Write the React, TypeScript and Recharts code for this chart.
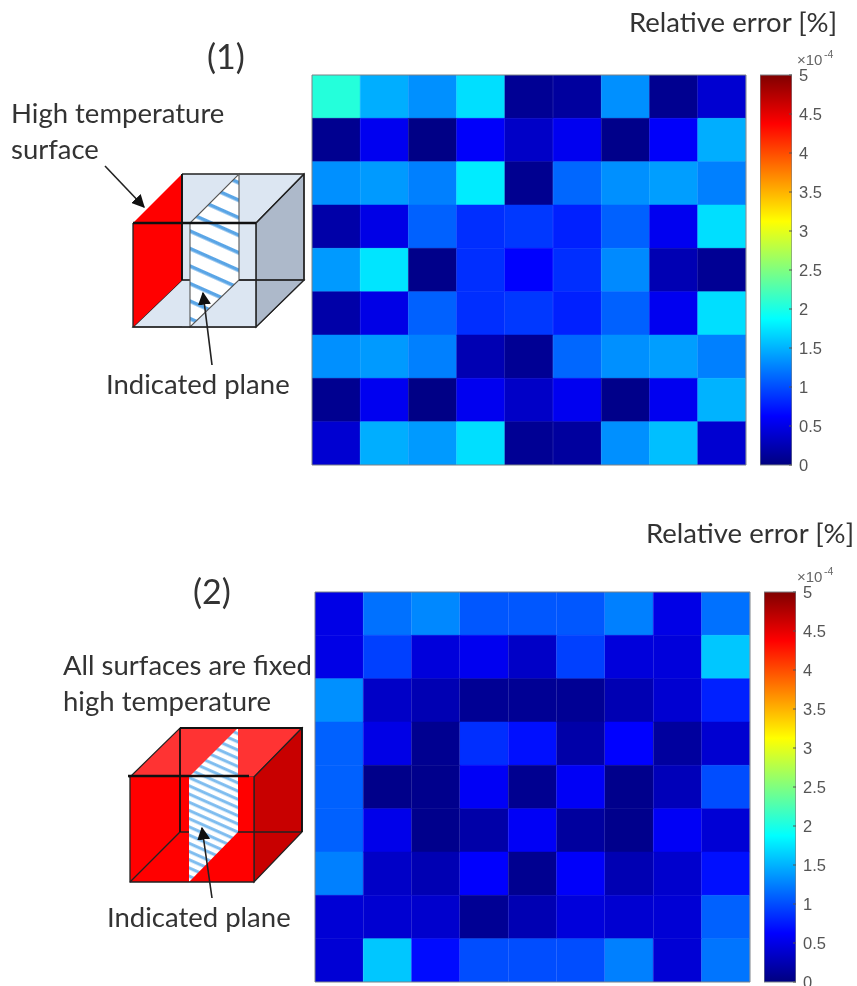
import React from 'react';
import { BarChart, Bar, XAxis, YAxis, Cell } from 'recharts';

const columnLabels = ['1', '2', '3', '4', '5', '6', '7', '8', '9'];
const columnTicks = ['2', '4', '6', '8'];
const rowKeys = ['r1', 'r2', 'r3', 'r4', 'r5', 'r6', 'r7', 'r8', 'r9'];
const rowTicks = [0.5, 1.5, 2.5, 3.5, 4.5, 5.5, 6.5, 7.5, 8.5];
const colorbarTicks = [0, 0.5, 1, 1.5, 2, 2.5, 3, 3.5, 4, 4.5, 5];

// Relative error, units of 1e-4 %, rows listed top to bottom
const errorsUpper = [
  [2.05, 1.48, 1.33, 1.72, 0.1, 0.15, 1.33, 0.08, 0.4],
  [0.08, 0.55, 0.03, 0.6, 0.35, 0.55, 0.05, 0.6, 1.48],
  [1.33, 1.38, 1.25, 1.78, 0.08, 1.13, 1.33, 1.4, 1.25],
  [0.2, 0.5, 1.1, 0.85, 0.9, 0.78, 1.1, 0.55, 1.72],
  [1.38, 1.75, 0.05, 0.85, 0.62, 0.85, 1.3, 0.25, 0.1],
  [0.2, 0.5, 1.1, 0.85, 0.9, 0.78, 1.1, 0.55, 1.72],
  [1.33, 1.38, 1.25, 0.25, 0.1, 1.13, 1.33, 1.4, 1.25],
  [0.08, 0.55, 0.03, 0.55, 0.35, 0.55, 0.05, 0.55, 1.5],
  [0.4, 1.48, 1.38, 1.72, 0.1, 0.15, 1.33, 1.56, 0.4],
];
const errorsLower = [
  [0.5, 1.18, 1.29, 1.05, 1.05, 1.05, 1.25, 0.5, 1.18],
  [0.5, 0.94, 0.45, 0.55, 0.35, 0.94, 0.45, 0.45, 1.6],
  [1.33, 0.35, 0.25, 0.1, 0.1, 0.1, 0.25, 0.4, 0.78],
  [1.1, 0.5, 0.08, 0.85, 0.7, 0.2, 0.63, 0.15, 0.4],
  [1.1, 0.05, 0.06, 0.58, 0.08, 0.58, 0.06, 0.28, 1.0],
  [1.1, 0.52, 0.06, 0.2, 0.58, 0.15, 0.06, 0.58, 0.42],
  [1.25, 0.35, 0.25, 0.62, 0.08, 0.6, 0.25, 0.38, 0.7],
  [0.42, 0.4, 0.38, 0.1, 0.25, 0.45, 0.4, 0.42, 1.1],
  [0.42, 1.6, 0.68, 1.0, 1.0, 1.0, 1.25, 0.42, 1.2],
];

const jetStops: [number, number, number, number][] = [
  [0, 0, 0, 0.5],
  [0.125, 0, 0, 1],
  [0.375, 0, 1, 1],
  [0.625, 1, 1, 0],
  [0.875, 1, 0, 0],
  [1, 0.5, 0, 0],
];
const colorbarTable = [{ name: 'scale', span: 5 }];

function jet(value: number): string {
  const f = Math.max(0, Math.min(1, value / 5));
  let i = 0;
  while (i < jetStops.length - 2 && f > jetStops[i + 1][0]) i++;
  const a = jetStops[i];
  const b = jetStops[i + 1];
  const t = (f - a[0]) / (b[0] - a[0]);
  const c = [1, 2, 3].map((k) => Math.round((a[k] + (b[k] - a[k]) * t) * 255));
  return `rgb(${c[0]},${c[1]},${c[2]})`;
}

const stopCss = (s: number[]) =>
  `rgb(${Math.round(s[1] * 255)},${Math.round(s[2] * 255)},${Math.round(s[3] * 255)})`;

const FRAME = '#7d8288';
const TICK = '#555';
const PAD = 4;

function Heatmap({ values, left, top, width, height }: { values: number[][]; left: number; top: number; width: number; height: number }) {
  const table = columnLabels.map((col) => {
    const row: Record<string, string | number> = { col };
    rowKeys.forEach((k) => {
      row[k] = 1;
    });
    return row;
  });
  const common = { stroke: FRAME, tickLine: { stroke: TICK }, tick: false, tickSize: -3, interval: 0 } as const;
  const m = PAD - 1;
  return (
    <>
      <div style={{ position: 'absolute', left, top }}>
        <BarChart width={width} height={height} data={table} barCategoryGap={0} margin={{ top: 0, right: 0, bottom: 0, left: 0 }}>
          <XAxis dataKey="col" hide />
          <YAxis type="number" domain={[0, 9]} reversed hide />
          {rowKeys.map((k, r) => (
            <Bar key={k} dataKey={k} stackId="cells" isAnimationActive={false}>
              {columnLabels.map((c, i) => (
                <Cell key={c} fill={jet(values[r][i])} stroke={jet(values[r][i])} strokeWidth={0.5} />
              ))}
            </Bar>
          ))}
        </BarChart>
      </div>
      <div style={{ position: 'absolute', left: left - PAD, top: top - PAD }}>
        <BarChart width={width + 2 * PAD} height={height + 2 * PAD} data={table} margin={{ top: m, right: m, bottom: m, left: m }}>
          <XAxis dataKey="col" height={1} ticks={columnTicks} {...common} />
          <XAxis xAxisId="top" dataKey="col" orientation="top" height={1} ticks={columnTicks} {...common} />
          <YAxis type="number" domain={[0, 9]} reversed width={1} ticks={rowTicks} {...common} />
          <YAxis yAxisId="right" type="number" domain={[0, 9]} reversed orientation="right" width={1} ticks={rowTicks} {...common} />
          <Bar dataKey="r1" fill="none" isAnimationActive={false} />
          <Bar dataKey="r1" xAxisId="top" yAxisId="right" fill="none" isAnimationActive={false} />
        </BarChart>
      </div>
    </>
  );
}

function Colorbar({ id, left, top, barWidth, height }: { id: string; left: number; top: number; barWidth: number; height: number }) {
  const pad = 12;
  return (
    <>
      <div style={{ position: 'absolute', left, top: top - pad }}>
        <BarChart width={barWidth} height={height + 2 * pad} data={colorbarTable} barCategoryGap={0} margin={{ top: pad, right: 0, bottom: pad, left: 0 }}>
          <defs>
            <linearGradient id={id} x1="0" y1="1" x2="0" y2="0">
              {jetStops.map((s) => (
                <stop key={s[0]} offset={s[0]} stopColor={stopCss(s)} />
              ))}
            </linearGradient>
          </defs>
          <XAxis dataKey="name" hide />
          <YAxis type="number" domain={[0, 5]} hide />
          <Bar dataKey="span" fill={`url(#${id})`} stroke={FRAME} strokeWidth={1.2} isAnimationActive={false} />
        </BarChart>
      </div>
      <div style={{ position: 'absolute', left, top: top - pad }}>
        <BarChart width={barWidth + 40} height={height + 2 * pad} data={colorbarTable} margin={{ top: pad, right: 0, bottom: pad, left: 0 }}>
          <XAxis dataKey="name" hide />
          <YAxis
            orientation="right"
            type="number"
            domain={[0, 5]}
            ticks={colorbarTicks}
            interval={0}
            width={40}
            tickSize={-3}
            tickMargin={10}
            axisLine={false}
            tickLine={{ stroke: TICK }}
            tick={{ fontFamily: 'Liberation Sans', fontSize: 16.5, fill: '#555', textAnchor: 'start' }}
          />
          <Bar dataKey="span" fill="none" isAnimationActive={false} />
        </BarChart>
      </div>
    </>
  );
}

const LABEL = { fontFamily: 'Lato', fill: '#333' } as const;

function Arrow({ from, to }: { from: [number, number]; to: [number, number] }) {
  return <line x1={from[0]} y1={from[1]} x2={to[0]} y2={to[1]} stroke="#222" strokeWidth={1.6} markerEnd="url(#head2)" />;
}

function Diagrams() {
  const ink = '#222';
  return (
    <svg width={857} height={986} style={{ position: 'absolute', left: 0, top: 0 }}>
      <defs>
        <marker id="head2" viewBox="0 0 10 10" refX="9" refY="5" markerWidth="13" markerHeight="13" orient="auto" markerUnits="userSpaceOnUse">
          <path d="M0 0 L10 5 L0 10 Z" fill="#111" />
        </marker>
        <pattern id="hatchA" patternUnits="userSpaceOnUse" width="14" height="16" patternTransform="rotate(24)">
          <rect width="14" height="16" fill="#fff" />
          <rect width="14" height="3.6" y="4" fill="#5aa5e6" />
        </pattern>
        <pattern id="hatchB" patternUnits="userSpaceOnUse" width="14" height="7.5" patternTransform="rotate(24)">
          <rect width="14" height="7.5" fill="#fff" />
          <rect width="14" height="3" y="2" fill="#7dbcef" />
        </pattern>
      </defs>

      {/* Cube (1) */}
      <polygon points="182,174 304,174 304,280 182,280" fill="#dce6f2" />
      <polygon points="133,327 256,327 304,280 182,280" fill="#dce6f2" stroke={ink} strokeWidth={1.2} />
      <polygon points="256,223 304,174 304,280 256,327" fill="#adb9ca" stroke={ink} strokeWidth={1.2} />
      <polygon points="133,223 182,174 182,280 133,327" fill="#ff0000" />
      <polygon points="182,223 256,223 256,327 182,327" fill="#dce6f2" fillOpacity={0.4} />
      <polyline points="182,174 304,174 304,280 182,280 182,174" fill="none" stroke={ink} strokeWidth={1.4} />
      <line x1={256} y1={223} x2={304} y2={174} stroke={ink} strokeWidth={1.2} />
      <polygon points="190,327 190,223 239,174 239,280" fill="url(#hatchA)" stroke="#555" strokeWidth={1.1} />
      <line x1={182} y1={174} x2={182} y2={280} stroke="#111" strokeWidth={1.8} />
      <polyline points="133,223 133,327 256,327 256,223" fill="none" stroke={ink} strokeWidth={1.3} />
      <line x1={133} y1={223} x2={256} y2={223} stroke="#111" strokeWidth={2.6} />
      <line x1={239} y1={280} x2={304} y2={280} stroke={ink} strokeWidth={1.2} />

      {/* Cube (2) */}
      <polygon points="130,777 180,728 302,728 254,777" fill="#ff3333" stroke={ink} strokeWidth={1.2} />
      <polygon points="254,777 302,728 302,832 254,882" fill="#c80000" stroke={ink} strokeWidth={1.2} />
      <polygon points="130,777 254,777 254,882 130,882" fill="#ff0000" />
      <polyline points="130,882 180,832 302,832" fill="none" stroke={ink} strokeWidth={1.3} />
      <line x1={180} y1={728} x2={180} y2={832} stroke="#111" strokeWidth={1.8} />
      <polygon points="189,882 189,777 238,728 238,832" fill="url(#hatchB)" />
      <polyline points="130,777 130,882 254,882 254,777" fill="none" stroke={ink} strokeWidth={1.3} />
      <polyline points="180,728 302,728 302,832" fill="none" stroke="#111" strokeWidth={1.8} />
      <line x1={128} y1={776} x2={249} y2={776} stroke="#111" strokeWidth={2.6} />

      <Arrow from={[105, 166]} to={[144, 207]} />
      <Arrow from={[212, 365]} to={[203, 293]} />
      <Arrow from={[212, 898]} to={[202, 828]} />

      <text x={629} y={32} fontSize={27.5} {...LABEL}>Relative error [%]</text>
      <text x={646} y={543} fontSize={27.5} {...LABEL}>Relative error [%]</text>
      <text x={226} y={69} fontSize={34} textAnchor="middle" {...LABEL}>(1)</text>
      <text x={212} y={604} fontSize={34} textAnchor="middle" {...LABEL}>(2)</text>
      <text x={11} y={123} fontSize={27.5} {...LABEL}>High temperature</text>
      <text x={11} y={159} fontSize={27.5} {...LABEL}>surface</text>
      <text x={106} y={394} fontSize={27.5} {...LABEL}>Indicated plane</text>
      <text x={63} y={675} fontSize={27.5} {...LABEL}>All surfaces are fixed</text>
      <text x={63} y={711} fontSize={27.5} {...LABEL}>high temperature</text>
      <text x={107} y={927} fontSize={27.5} {...LABEL}>Indicated plane</text>

      <text x={797} y={65} fontFamily="Liberation Sans" fontSize={15} fill="#666">×10</text>
      <text x={824} y={58} fontFamily="Liberation Sans" fontSize={10.5} fill="#666">-4</text>
      <text x={797} y={582} fontFamily="Liberation Sans" fontSize={15} fill="#666">×10</text>
      <text x={824} y={575} fontFamily="Liberation Sans" fontSize={10.5} fill="#666">-4</text>
    </svg>
  );
}

export default function App() {
  return (
    <div style={{ position: 'absolute', left: 0, top: 0, width: 857, height: 986, overflow: 'hidden', background: '#fff', filter: 'blur(0.6px)' }}>
      <Diagrams />
      <Heatmap values={errorsUpper} left={311.5} top={75} width={434} height={390} />
      <Colorbar id="jetA" left={760} top={75} barWidth={32} height={390} />
      <Heatmap values={errorsLower} left={315} top={592} width={435} height={390} />
      <Colorbar id="jetB" left={764} top={592} barWidth={32} height={390} />
    </div>
  );
}
